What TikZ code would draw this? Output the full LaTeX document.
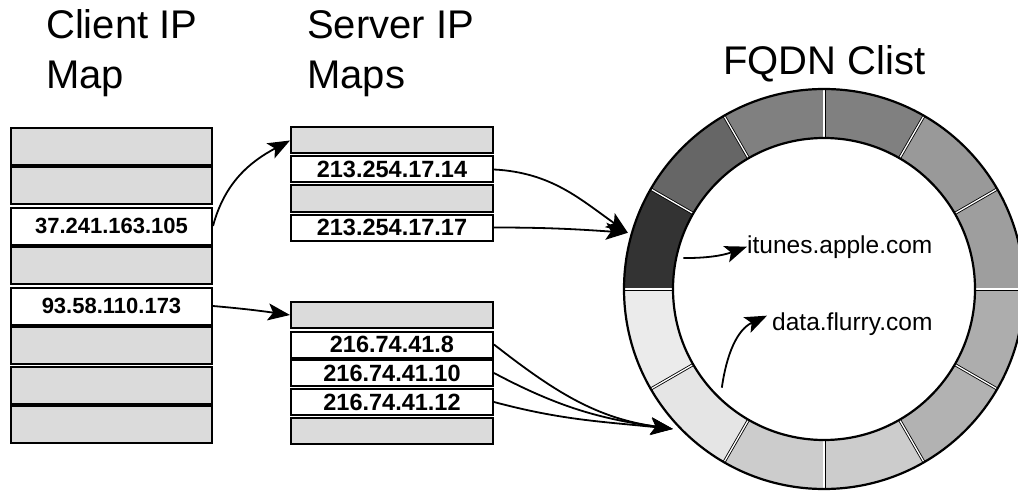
\documentclass[tikz,border=0pt]{standalone}
\usepackage{fontspec}
\setmainfont{Liberation Sans}
\usetikzlibrary{arrows.meta,calc}
\begin{document}
\begin{tikzpicture}[x=1pt,y=1pt,
  crow/.style={draw, line width=2pt, minimum width=201pt, minimum height=37pt, inner sep=0pt, font=\bfseries\fontsize{22}{22}\selectfont},
  srow/.style={draw, line width=2pt, minimum width=202pt, minimum height=26pt, inner sep=0pt, font=\bfseries\fontsize{23.5}{23.5}\selectfont},
  grayfill/.style={fill=black!14},
  whitefill/.style={fill=white},
  title/.style={anchor=base west, inner sep=0pt, font=\fontsize{40}{40}\selectfont},
  label/.style={anchor=base west, inner sep=0pt, font=\fontsize{24.5}{24.5}\selectfont},
  conn/.style={line width=1.8pt, -{Stealth[length=22pt,width=17pt,inset=5pt]}},
]
\useasboundingbox (0,0) rectangle (1018,-492);
\fill[white] (0,0) rectangle (1018,-492);

% titles
\node[title] (t1a) at (46,-39) {Client IP};
\node[title] (t1b) at (46,-89) {Map};
\node[title] (t2a) at (307,-39) {Server IP};
\node[title] (t2b) at (307,-89) {Maps};
\node[title] (t3) at (723,-75) {FQDN Clist};

% client map
\node[crow,grayfill]  (c1) at (111.5,-146.5) {};
\node[crow,grayfill]  (c2) at (111.5,-186) {};
\node[crow,whitefill] (c3) at (111.5,-226) {37.241.163.105};
\node[crow,grayfill]  (c4) at (111.5,-265.5) {};
\node[crow,whitefill] (c5) at (111.5,-306) {93.58.110.173};
\node[crow,grayfill]  (c6) at (111.5,-345.5) {};
\node[crow,grayfill]  (c7) at (111.5,-385) {};
\node[crow,grayfill]  (c8) at (111.5,-424.5) {};

% server maps (top)
\node[srow,grayfill]  (s1) at (392,-140.5) {};
\node[srow,whitefill] (s2) at (392,-169.5) {213.254.17.14};
\node[srow,grayfill]  (s3) at (392,-198.5) {};
\node[srow,whitefill] (s4) at (392,-227.5) {213.254.17.17};

% server maps (bottom)
\node[srow,grayfill]  (b1) at (392,-315) {};
\node[srow,whitefill] (b2) at (392,-344.5) {216.74.41.8};
\node[srow,whitefill] (b3) at (392,-373) {216.74.41.10};
\node[srow,whitefill] (b4) at (392,-402) {216.74.41.12};
\node[srow,grayfill]  (b5) at (392,-430.5) {};

% ring
\coordinate (ctr) at (824,-289);
\foreach \a/\g in {0/38,30/40,60/50,90/50,120/60,150/80,180/8,210/10,240/20,270/20,300/30,330/32}{
  \fill[black!\g] ($(ctr)+(\a:151)$) arc[start angle=\a, end angle=\a+30, radius=151]
     -- ($(ctr)+(\a+30:200)$) arc[start angle=\a+30, end angle=\a, radius=200] -- cycle;
}
\foreach \a in {0,30,...,330}{
  \draw[black, line width=3pt] ($(ctr)+(\a:151)$) -- ($(ctr)+(\a:200)$);
  \draw[white, line width=1.3pt] ($(ctr)+(\a:151)$) -- ($(ctr)+(\a:200)$);
}
\draw[line width=2.2pt] (ctr) circle[radius=200];
\draw[line width=2.2pt] (ctr) circle[radius=151];

% ring targets and inner labels
\coordinate (rtop) at ($(ctr)+(164:204)$);
\coordinate (rbot) at ($(ctr)+(222.8:206)$);
\coordinate (istart) at ($(ctr)+(167.6:144)$);
\coordinate (dstart) at ($(ctr)+(224:142)$);
\node[label] (itunes) at (747,-253) {itunes.apple.com};
\node[label] (flurry) at (772,-330) {data.flurry.com};

% connectors
\draw[conn] (c3.east) to[out=75,in=208] (s1.west);
\draw[conn] (c5.east) to[out=-5,in=172] (b1.west);
\draw[conn] (s2.east) to[out=-3,in=145] (rtop);
\draw[conn] (s4.east) to[out=0,in=176] (rtop);
\draw[conn] (b2.east) to[out=-38,in=172] (rbot);
\draw[conn] (b3.east) to[out=-28,in=172] (rbot);
\draw[conn] (b4.east) to[out=-15,in=174] (rbot);
\draw[conn] (istart) to[out=0,in=200] (itunes.west);
\draw[conn] (dstart) to[out=82,in=205] ($(flurry.west)+(-5,8)$);
\end{tikzpicture}
\end{document}
